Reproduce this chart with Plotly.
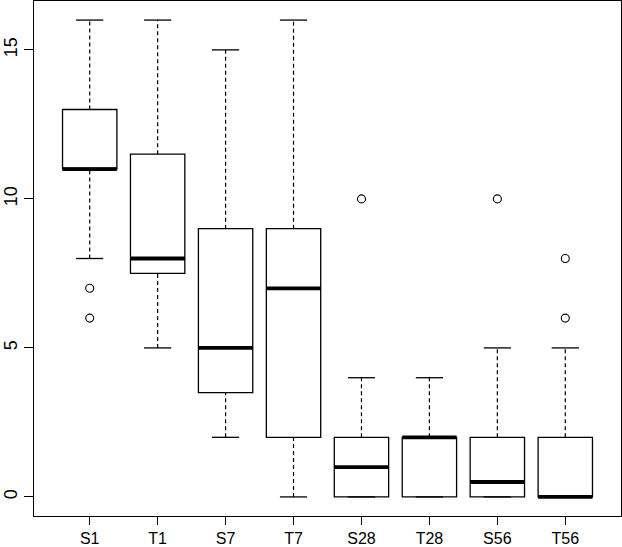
import plotly.graph_objects as go

# Group names and box statistics
groups = ["S1", "T1", "S7", "T7", "S28", "T28", "S56", "T56"]
lower = [8, 5, 2, 0, 0, 0, 0, 0]
q1 = [11, 7.5, 3.5, 2, 0, 0, 0, 0]
median = [11, 8, 5, 7, 1, 2, 0.5, 0]
q3 = [13, 11.5, 9, 9, 2, 2, 2, 2]
upper = [16, 16, 15, 16, 4, 4, 5, 5]

# outliers (group index, value)
out_group = [1, 1, 5, 7, 8, 8]
out_value = [7, 6, 10, 10, 8, 6]

pos = list(range(1, len(groups) + 1))
boxw = 0.8
capw = 0.4

fig = go.Figure()

# boxes (no whiskers, those are drawn dashed below)
fig.add_trace(go.Box(
    x=pos, q1=q1, median=median, q3=q3, lowerfence=q1, upperfence=q3,
    width=boxw, fillcolor="white",
    line=dict(color="black", width=1.3),
    showlegend=False, hoverinfo="skip",
))

# dashed whiskers
wx, wy = [], []
for p, lo, a, b, hi in zip(pos, lower, q1, q3, upper):
    wx += [p, p, None, p, p, None]
    wy += [b, hi, None, lo, a, None]
fig.add_trace(go.Scatter(
    x=wx, y=wy, mode="lines",
    line=dict(color="black", width=1.2, dash="4px,3px"),
    showlegend=False, hoverinfo="skip",
))

# whisker caps
cx, cy = [], []
for p, lo, hi in zip(pos, lower, upper):
    cx += [p - capw / 2, p + capw / 2, None, p - capw / 2, p + capw / 2, None]
    cy += [hi, hi, None, lo, lo, None]
fig.add_trace(go.Scatter(
    x=cx, y=cy, mode="lines",
    line=dict(color="black", width=1.3),
    showlegend=False, hoverinfo="skip",
))

# thick median lines
mx, my = [], []
for p, m in zip(pos, median):
    mx += [p - boxw / 2, p + boxw / 2, None]
    my += [m, m, None]
fig.add_trace(go.Scatter(
    x=mx, y=my, mode="lines",
    line=dict(color="black", width=3.8),
    showlegend=False, hoverinfo="skip",
))

# outliers
fig.add_trace(go.Scatter(
    x=out_group, y=out_value, mode="markers",
    marker=dict(symbol="circle-open", size=8, color="black",
                line=dict(width=1.1)),
    showlegend=False, hoverinfo="skip",
))

fig.update_layout(
    width=622, height=547,
    margin=dict(l=34, r=1, t=1, b=31),
    plot_bgcolor="white", paper_bgcolor="white",
    font=dict(family="Liberation Sans, Arial, sans-serif", color="black"),
)
fig.update_xaxes(
    range=[0.18, 8.82], tickvals=pos, ticktext=groups,
    showgrid=False, zeroline=False, automargin=False,
    showline=True, mirror=True, linecolor="black", linewidth=1.3,
    ticks="outside", ticklen=8, tickwidth=1.3, tickcolor="black",
    tickfont=dict(size=16),
)
fig.update_yaxes(
    range=[-0.64, 16.64], tickvals=[0, 5, 10, 15],
    showgrid=False, zeroline=False, automargin=False,
    showline=True, mirror=True, linecolor="black", linewidth=1.3,
    ticks="outside", ticklen=9, tickwidth=1.3, tickcolor="black",
    tickangle=-90, tickfont=dict(size=18),
)

# the page body has a default 8px margin; drop it so the figure sits at 0,0
fig.write_html("out.html", config={"displayModeBar": False},
               post_script="document.body.style.margin='0';")
